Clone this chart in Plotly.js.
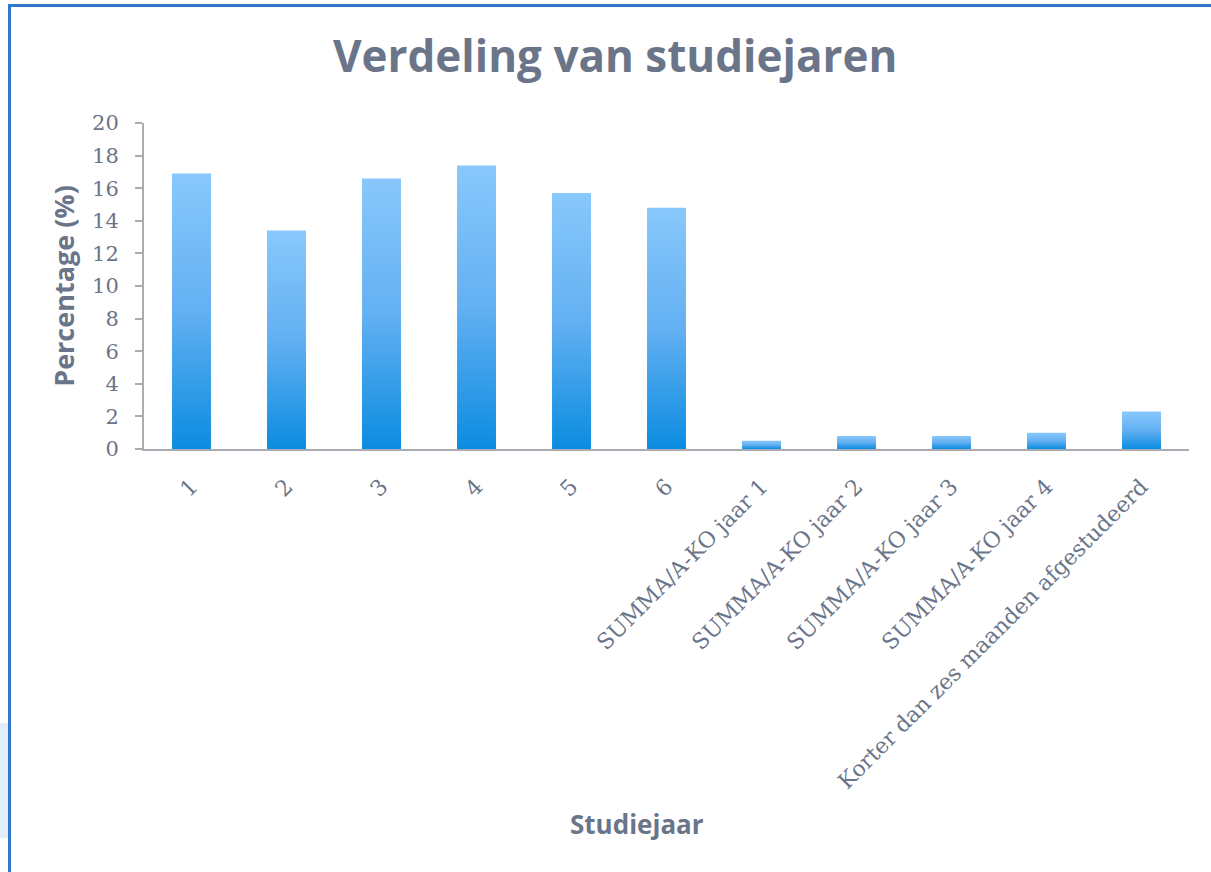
<!DOCTYPE html>
<html>
<head>
<meta charset="utf-8">
<script src="https://cdn.plot.ly/plotly-3.0.1.min.js"></script>
<style>
html,body{margin:0;padding:0;background:#fff;overflow:hidden;}
#wrap{position:relative;width:1211px;height:872px;}
#chart{position:absolute;left:0;top:0;width:1211px;height:872px;}
#bl{position:absolute;left:8px;top:4px;width:3px;height:868px;background:#2f78cc;pointer-events:none;}
#bt{position:absolute;left:8px;top:4px;width:1203px;height:3px;background:#2f78cc;pointer-events:none;}
#side{position:absolute;left:0;top:723px;width:8px;height:115px;background:#e3eef8;pointer-events:none;}
</style>
</head>
<body>
<div id="wrap">
<div id="chart"></div>
<div id="side"></div>
<div id="bl"></div>
<div id="bt"></div>
</div>
<script>
const categories = ["1","2","3","4","5","6","SUMMA/A-KO jaar 1","SUMMA/A-KO jaar 2","SUMMA/A-KO jaar 3","SUMMA/A-KO jaar 4","Korter dan zes maanden afgestudeerd"];
const percentages = [16.9, 13.4, 16.6, 17.4, 15.7, 14.8, 0.5, 0.8, 0.8, 1.0, 2.3];
const yTicks = [0,2,4,6,8,10,12,14,16,18,20];

const textColor = '#6b7589';
const serif = 'DejaVu Serif, Liberation Serif, serif';
const trace = {
  type: 'bar',
  x: categories,
  y: percentages,
  marker: {color: '#4fa6ee', line: {width: 0}},
  hoverinfo: 'x+y'
};
const layout = {
  width: 1211, height: 872,
  paper_bgcolor: '#fff', plot_bgcolor: '#fff',
  margin: {l: 144, r: 22, t: 123, b: 423},
  bargap: 0.59,
  showlegend: false,
  title: {
    text: '<b>Verdeling van studiejaren</b>',
    font: {family: 'Open Sans, sans-serif', size: 44, color: textColor},
    xref: 'container', x: 0.508, xanchor: 'center',
    yref: 'container', y: 0.935, yanchor: 'middle'
  },
  xaxis: {
    type: 'category',
    showline: true, linecolor: '#a9adb3', linewidth: 2,
    ticks: '', showgrid: false, zeroline: false,
    tickangle: -45,
    tickfont: {family: serif, size: 22, color: textColor},
    ticklabelstandoff: 14,
    automargin: false
  },
  yaxis: {
    range: [0, 20],
    tickvals: yTicks,
    showline: true, linecolor: '#a9adb3', linewidth: 2,
    ticks: 'outside', ticklen: 7, tickwidth: 2, tickcolor: '#a9adb3',
    showgrid: false, zeroline: false,
    tickfont: {family: serif, size: 21, color: textColor},
    ticklabelstandoff: 12,
    automargin: false,
    title: {text: '<b>Percentage (%)</b>', font: {family: 'Open Sans, sans-serif', size: 27, color: textColor}, standoff: 10}
  },
  annotations: [{
    text: '<b>Studiejaar</b>',
    xref: 'paper', yref: 'paper', x: 0.472, y: -1.15,
    xanchor: 'center', yanchor: 'middle', showarrow: false,
    font: {family: 'Open Sans, sans-serif', size: 26, color: textColor}
  }]
};
Plotly.newPlot('chart', [trace], layout, {displayModeBar: false, staticPlot: true}).then(function(gd){
  const svg = gd.querySelector('svg.main-svg');
  const ns = 'http://www.w3.org/2000/svg';
  let defs = svg.querySelector('defs');
  if (!defs) { defs = document.createElementNS(ns, 'defs'); svg.insertBefore(defs, svg.firstChild); }
  const g = document.createElementNS(ns, 'linearGradient');
  g.setAttribute('id', 'barGrad');
  g.setAttribute('x1', '0'); g.setAttribute('y1', '0'); g.setAttribute('x2', '0'); g.setAttribute('y2', '1');
  [['0', '#88c8fc'], ['0.5', '#63b0f2'], ['1', '#0b8ce0']].forEach(function(s){
    const st = document.createElementNS(ns, 'stop');
    st.setAttribute('offset', s[0]); st.setAttribute('stop-color', s[1]);
    g.appendChild(st);
  });
  defs.appendChild(g);
  gd.querySelectorAll('.bars .point path').forEach(function(p){
    p.style.fill = 'url(#barGrad)';
  });
});
</script>
</body>
</html>
